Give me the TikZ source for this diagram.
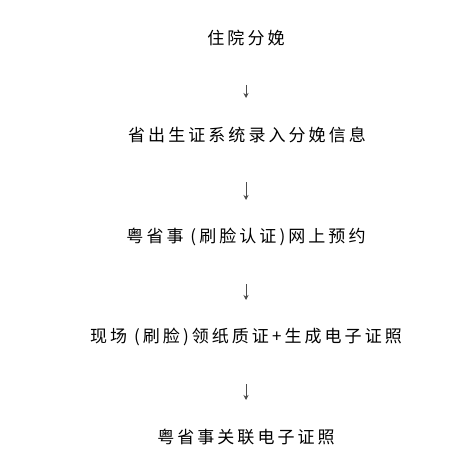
\documentclass[tikz,border=0pt]{standalone}
\usepackage{fontspec}
\newfontfamily\cjk[LetterSpace=18]{Noto Sans CJK SC}
\usetikzlibrary{arrows.meta}
\tikzset{
  stepline/.style={font=\cjk\fontsize{17pt}{20pt}\selectfont, text=black, inner sep=0pt, anchor=center},
  flowarrow/.style={draw=black!70, line width=0.8pt, -{Stealth[length=5pt,width=5pt]}, shorten <=47pt, shorten >=37pt}
}
\begin{document}
\begin{tikzpicture}[x=1pt,y=1pt]
\useasboundingbox (0,0) rectangle (473,472);
\fill[white] (0,0) rectangle (473,472);
\node[stepline] (n1) at (246,434) {住院分娩};
\node[stepline] (n2) at (247,337) {省出生证系统录入分娩信息};
\node[stepline] (n3) at (246,235) {粤省事 (刷脸认证)网上预约};
\node[stepline] (n4) at (246,135) {现场 (刷脸)领纸质证+生成电子证照};
\node[stepline] (n5) at (246,35) {粤省事关联电子证照};
\coordinate (a1) at (246,434);
\coordinate (b1) at (246,337);
\coordinate (a2) at (246,337);
\coordinate (b2) at (246,235);
\coordinate (a3) at (246,235);
\coordinate (b3) at (246,135);
\coordinate (a4) at (246,135);
\coordinate (b4) at (246,35);
\draw[flowarrow] (a1) -- (b1);
\draw[flowarrow] (a2) -- (b2);
\draw[flowarrow] (a3) -- (b3);
\draw[flowarrow] (a4) -- (b4);
\end{tikzpicture}
\end{document}
